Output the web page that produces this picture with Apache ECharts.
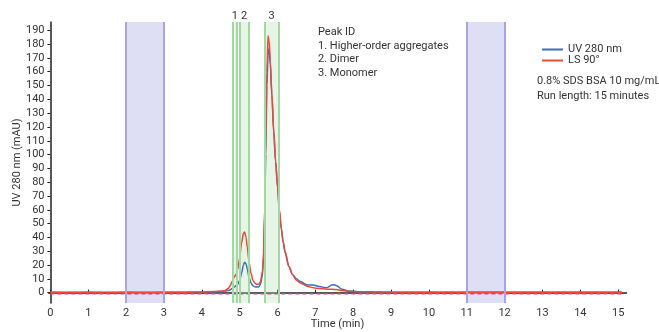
<!DOCTYPE html>
<html>
<head>
<meta charset="utf-8">
<script src="https://cdn.jsdelivr.net/npm/echarts@6/dist/echarts.min.js"></script>
<style>
  html, body { margin: 0; padding: 0; background: #fff; }
  #chart { width: 659px; height: 332px; }
</style>
</head>
<body>
<div id="chart"></div>
<script>
// tiempos (min) de los puntos leídos
var tiempos = [0, 0.5, 1, 1.5, 2, 2.5, 3, 3.5, 4, 4.3, 4.5, 4.6, 4.7, 4.75, 4.8, 4.85, 4.9, 4.95, 5.0, 5.05,
  5.1, 5.13, 5.17, 5.2, 5.25, 5.3, 5.35, 5.4, 5.45, 5.5, 5.55, 5.6, 5.63, 5.66, 5.69, 5.72, 5.75, 5.78, 5.81, 5.85,
  5.9, 5.95, 6.0, 6.05, 6.1, 6.15, 6.2, 6.3, 6.4, 6.5, 6.6, 6.8, 6.95, 7.1, 7.3, 7.45, 7.55, 7.7, 7.9, 8.2,
  8.6, 9, 10, 11, 12, 13, 14, 15.1];

var uv280 = [0.2, 0.1, 0.2, 0.1, 0.2, 0.1, 0.2, 0.2, 0.4, 0.6, 1.0, 1.2, 1.5, 2, 3, 4, 5, 6, 9, 14,
  20, 22, 21, 17, 11, 7, 5, 4.2, 4, 4, 6, 12, 25, 55, 100, 150, 172, 177, 165, 143,
  116, 95, 76, 59, 46, 36, 29, 19, 13, 10, 8, 5.5, 5.5, 4.5, 3.5, 5.8, 5.2, 2.5, 1.2, 0.6,
  0.4, 0.3, 0.2, 0.2, 0.2, 0.2, 0.2, 0.2];

var ls90 = [0.3, 0.2, 0.3, 0.2, 0.3, 0.2, 0.3, 0.3, 0.5, 0.8, 1.0, 1.5, 3, 5, 8, 11, 13, 17, 25, 36,
  43, 44, 40, 33, 22, 14, 9, 7, 6, 6, 8, 15, 28, 60, 110, 160, 186, 182, 168, 145,
  118, 95, 78, 60, 47, 37, 30, 19, 13, 9, 7, 4.5, 3.5, 3, 2.5, 2.5, 2.2, 1.5, 1, 0.7,
  0.5, 0.4, 0.3, 0.3, 0.3, 0.3, 0.3, 0.3];

var lineaBaseX = [0, 15.1];
var lineaBaseY = [-0.8, -0.8];

// ventanas marcadas
var bandasAzules = [[2, 3], [11, 12]];
var bandasPicos = [[4.82, 4.93], [5.0, 5.24], [5.66, 6.03]];
var etiquetasPicos = ["1", "2", "3"];

var ticksX = [0, 1, 2, 3, 4, 5, 6, 7, 8, 9, 10, 11, 12, 13, 14, 15];
var ticksY = [0, 10, 20, 30, 40, 50, 60, 70, 80, 90, 100, 110, 120, 130, 140, 150, 160, 170, 180, 190];

var textoPicos = ["Peak ID", "1. Higher-order aggregates", "2. Dimer", "3. Monomer"];
var textoCondiciones = ["0.8% SDS BSA 10 mg/mL", "Run length: 15 minutes"];

function unir(xs, ys) {
  return xs.map(function (x, i) { return [x, ys[i]]; });
}

var fuente = "Roboto";
var colorTexto = "#333";

var areas = [];
var bordes = [];
bandasAzules.forEach(function (b) {
  areas.push([{ xAxis: b[0], itemStyle: { color: "rgba(200, 200, 238, 0.6)" } }, { xAxis: b[1] }]);
  bordes.push({ xAxis: b[0], lineStyle: { color: "#aaa4de", width: 2, type: "solid" } });
  bordes.push({ xAxis: b[1], lineStyle: { color: "#aaa4de", width: 2, type: "solid" } });
});
bandasPicos.forEach(function (b, i) {
  areas.push([{
    xAxis: b[0],
    itemStyle: { color: "rgba(185, 225, 185, 0.35)" },
    label: { show: true, position: "top", distance: 0, formatter: etiquetasPicos[i], color: colorTexto, fontSize: 11, fontFamily: fuente }
  }, { xAxis: b[1] }]);
  bordes.push({ xAxis: b[0], lineStyle: { color: "#a3d8a3", width: 2, type: "solid" } });
  bordes.push({ xAxis: b[1], lineStyle: { color: "#a3d8a3", width: 2, type: "solid" } });
});

var graficos = [];
textoPicos.forEach(function (t, i) {
  graficos.push({ type: "text", left: 318, top: 27 + i * 13.6, style: { text: t, fill: colorTexto, font: "11px " + fuente } });
});
textoCondiciones.forEach(function (t, i) {
  graficos.push({ type: "text", left: 537, top: 76 + i * 15, style: { text: t, fill: colorTexto, font: "11px " + fuente } });
});

var dom = document.getElementById("chart");
var myChart = echarts.init(dom, null, { renderer: "canvas" });

var option = {
  animation: false,
  backgroundColor: "#fff",
  textStyle: { fontFamily: fuente },
  grid: { left: 48.5, right: 32.5, top: 22, bottom: 29, containLabel: false, outerBoundsMode: "none" },
  legend: {
    orient: "vertical",
    left: 537,
    top: 39,
    itemWidth: 21,
    itemHeight: 2,
    itemGap: 0,
    icon: "rect",
    textStyle: { fontSize: 11, color: colorTexto, fontFamily: fuente },
    data: ["UV 280 nm", "LS 90°"]
  },
  xAxis: {
    type: "value",
    min: -0.05,
    max: 15.22,
    name: "Time (min)",
    nameLocation: "middle",
    nameGap: 16,
    nameMoveOverlap: false,
    nameTextStyle: { fontSize: 11, color: colorTexto },
    axisLine: { show: true, lineStyle: { color: "#222", width: 1.5 } },
    axisTick: { show: true, inside: true, length: 3, customValues: ticksX, lineStyle: { color: "#222" } },
    axisLabel: { customValues: ticksX, fontSize: 11, color: colorTexto, margin: 5 },
    splitLine: { show: false }
  },
  yAxis: {
    type: "value",
    min: -7.5,
    max: 196,
    name: "UV 280 nm (mAU)",
    nameLocation: "middle",
    nameGap: 26,
    nameMoveOverlap: false,
    nameTextStyle: { fontSize: 11, color: colorTexto },
    axisLine: { show: true, lineStyle: { color: "#222", width: 1.5 } },
    axisTick: { show: true, length: 3, customValues: ticksY, lineStyle: { color: "#222" } },
    axisLabel: { customValues: ticksY, fontSize: 11, color: colorTexto, margin: 4 },
    splitLine: { show: false }
  },
  graphic: graficos,
  series: [
    {
      name: "bandas",
      type: "line",
      data: [],
      silent: true,
      markArea: { silent: true, data: areas },
      markLine: { silent: true, symbol: "none", label: { show: false }, data: bordes },
      z: 1
    },
    {
      name: "base",
      type: "line",
      data: unir(lineaBaseX, lineaBaseY),
      showSymbol: false,
      lineStyle: { color: "#d9418c", width: 1.5, type: [4, 3] },
      z: 2
    },
    {
      name: "UV 280 nm",
      type: "line",
      data: unir(tiempos, uv280),
      showSymbol: false,
      smooth: 0.3,
      smoothMonotone: "x",
      itemStyle: { color: "#3a6fb8" },
      lineStyle: { color: "#3a6fb8", width: 1.5 },
      z: 3
    },
    {
      name: "LS 90°",
      type: "line",
      data: unir(tiempos, ls90),
      showSymbol: false,
      smooth: 0.3,
      smoothMonotone: "x",
      itemStyle: { color: "#ec4a37" },
      lineStyle: { color: "#ec4a37", width: 1.5 },
      z: 4
    }
  ]
};

myChart.setOption(option, true);
window.addEventListener("resize", myChart.resize);
</script>
</body>
</html>
